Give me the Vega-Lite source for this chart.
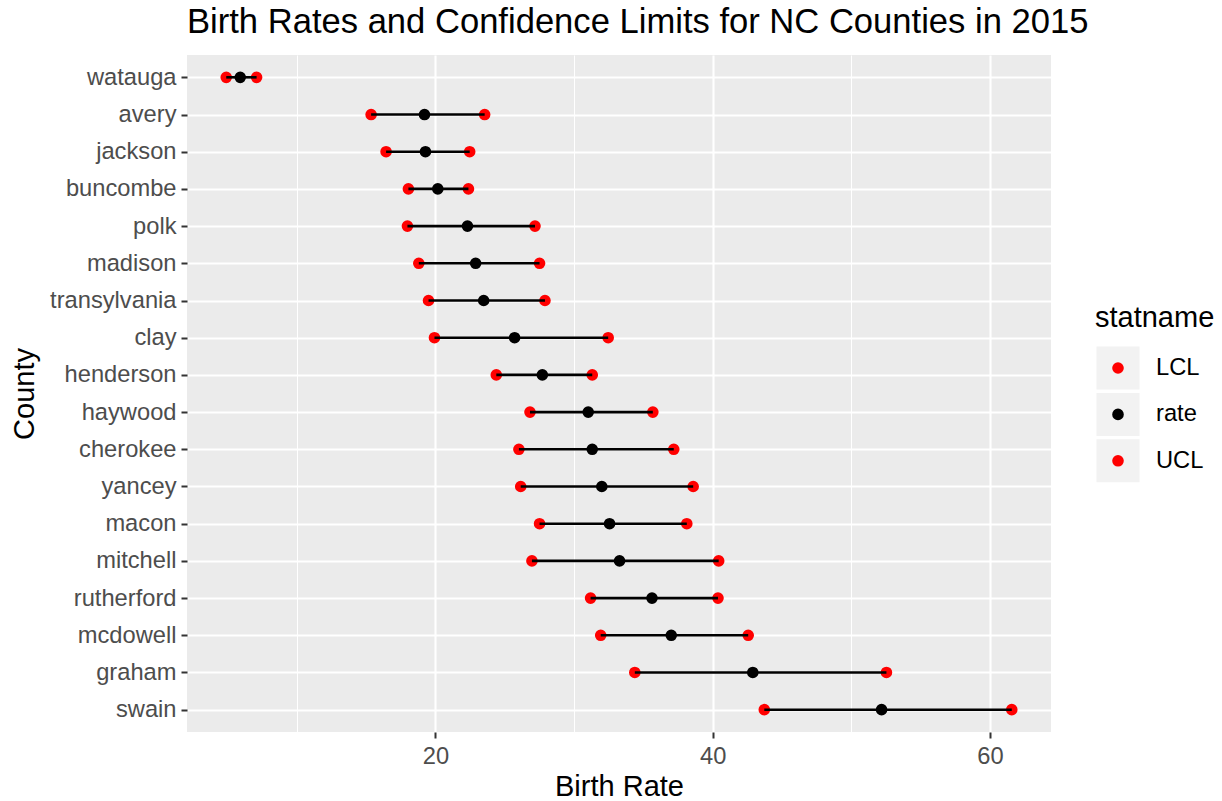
{
  "$schema": "https://vega.github.io/schema/vega-lite/v6.json",
  "background": "white",
  "padding": {"left": 10, "top": 5, "right": 0, "bottom": 0},
  "bounds": "flush",
  "spacing": 45,
  "config": {
    "font": "Liberation Sans",
    "view": {"stroke": null},
    "title": {"font": "Liberation Sans", "fontWeight": "normal"},
    "axis": {"labelFont": "Liberation Sans", "titleFont": "Liberation Sans"}
  },
  "datasets": {
    "counties": [
      {"county": "watauga", "LCL": 4.91, "rate": 5.92, "UCL": 7.1},
      {"county": "avery", "LCL": 15.36, "rate": 19.21, "UCL": 23.55},
      {"county": "jackson", "LCL": 16.44, "rate": 19.28, "UCL": 22.47},
      {"county": "buncombe", "LCL": 18.05, "rate": 20.17, "UCL": 22.38},
      {"county": "polk", "LCL": 17.98, "rate": 22.31, "UCL": 27.18},
      {"county": "madison", "LCL": 18.8, "rate": 22.9, "UCL": 27.51},
      {"county": "transylvania", "LCL": 19.5, "rate": 23.48, "UCL": 27.9},
      {"county": "clay", "LCL": 19.93, "rate": 25.71, "UCL": 32.46},
      {"county": "henderson", "LCL": 24.39, "rate": 27.71, "UCL": 31.31},
      {"county": "haywood", "LCL": 26.82, "rate": 31.02, "UCL": 35.68},
      {"county": "cherokee", "LCL": 26.02, "rate": 31.31, "UCL": 37.19},
      {"county": "yancey", "LCL": 26.15, "rate": 32.0, "UCL": 38.59},
      {"county": "macon", "LCL": 27.51, "rate": 32.56, "UCL": 38.13},
      {"county": "mitchell", "LCL": 26.96, "rate": 33.28, "UCL": 40.43},
      {"county": "rutherford", "LCL": 31.19, "rate": 35.62, "UCL": 40.38},
      {"county": "mcdowell", "LCL": 31.92, "rate": 37.01, "UCL": 42.56},
      {"county": "graham", "LCL": 34.38, "rate": 42.89, "UCL": 52.53},
      {"county": "swain", "LCL": 43.72, "rate": 52.18, "UCL": 61.57}
    ],
    "legendItems": [
      {"statname": "LCL", "k": 0},
      {"statname": "rate", "k": 1},
      {"statname": "UCL", "k": 2}
    ],
    "legendTitle": [{"label": "statname"}]
  },
  "hconcat": [
    {
      "width": 864,
      "height": 677,
      "title": {
        "text": "Birth Rates and Confidence Limits for NC Counties in 2015",
        "anchor": "start",
        "frame": "group",
        "fontSize": 34.6,
        "color": "black",
        "offset": 14
      },
      "view": {"fill": "#EBEBEB", "stroke": null},
      "data": {"name": "counties"},
      "encoding": {
        "y": {
          "field": "county",
          "type": "nominal",
          "title": "County",
          "scale": {
            "type": "point",
            "padding": 0.6,
            "domain": ["watauga", "avery", "jackson", "buncombe", "polk", "madison", "transylvania", "clay", "henderson", "haywood", "cherokee", "yancey", "macon", "mitchell", "rutherford", "mcdowell", "graham", "swain"]
          },
          "axis": {
            "grid": true,
            "gridColor": "white",
            "gridWidth": 2.1,
            "domain": false,
            "tickColor": "#333333",
            "tickSize": 6,
            "tickWidth": 2,
            "labelFontSize": 23.7,
            "labelColor": "#4D4D4D",
            "labelPadding": 5,
            "titleFontSize": 29,
            "titleColor": "black",
            "titleFontWeight": "normal",
            "titlePadding": 10
          }
        }
      },
      "layer": [
        {
          "transform": [{"fold": ["LCL", "rate", "UCL"], "as": ["statname", "value"]}],
          "mark": {"type": "circle", "size": 135, "opacity": 1},
          "encoding": {
            "x": {
              "field": "value",
              "type": "quantitative",
              "title": "Birth Rate",
              "scale": {"domain": [2.08, 64.4], "nice": false, "zero": false},
              "axis": {
                "values": [10, 20, 30, 40, 50, 60],
                "labelExpr": "datum.value % 20 === 0 ? datum.label : ''",
                "grid": true,
                "gridColor": "white",
                "gridWidth": {"condition": {"test": "datum.value % 20 === 0", "value": 2.1}, "value": 1},
                "domain": false,
                "tickColor": {"condition": {"test": "datum.value % 20 === 0", "value": "#333333"}, "value": "transparent"},
                "tickSize": 6,
                "tickWidth": 2,
                "labelFontSize": 23.7,
                "labelColor": "#4D4D4D",
                "labelPadding": 6,
                "titleFontSize": 29,
                "titleColor": "black",
                "titleFontWeight": "normal",
                "titlePadding": 5
              }
            },
            "color": {
              "field": "statname",
              "type": "nominal",
              "scale": {"domain": ["LCL", "rate", "UCL"], "range": ["#FF0000", "#000000", "#FF0000"]},
              "legend": null
            }
          }
        },
        {
          "mark": {"type": "rule", "color": "black", "strokeWidth": 2.6},
          "encoding": {
            "x": {"field": "LCL", "type": "quantitative"},
            "x2": {"field": "UCL"}
          }
        }
      ]
    },
    {
      "width": 44,
      "height": 677,
      "view": {"stroke": null, "fill": null},
      "layer": [
        {
          "data": {"name": "legendItems"},
          "mark": {"type": "square", "size": 1849, "color": "#F2F2F2", "opacity": 1},
          "encoding": {
            "y": {"field": "k", "type": "quantitative", "scale": {"domain": [-6.746, 7.845], "reverse": true, "nice": false, "zero": false}, "axis": null}
          }
        },
        {
          "data": {"name": "legendItems"},
          "mark": {"type": "circle", "size": 135, "opacity": 1},
          "encoding": {
            "y": {"field": "k", "type": "quantitative"},
            "color": {
              "field": "statname",
              "type": "nominal",
              "scale": {"domain": ["LCL", "rate", "UCL"], "range": ["#FF0000", "#000000", "#FF0000"]},
              "legend": null
            }
          }
        },
        {
          "data": {"name": "legendItems"},
          "mark": {"type": "text", "align": "left", "baseline": "middle", "dx": 38, "fontSize": 23.7, "color": "black"},
          "encoding": {
            "y": {"field": "k", "type": "quantitative"},
            "text": {"field": "statname"}
          }
        },
        {
          "data": {"name": "legendTitle"},
          "mark": {"type": "text", "align": "left", "baseline": "alphabetic", "dx": -23, "fontSize": 29, "color": "black"},
          "encoding": {
            "y": {"datum": -0.884},
            "text": {"field": "label"}
          }
        }
      ]
    }
  ]
}
